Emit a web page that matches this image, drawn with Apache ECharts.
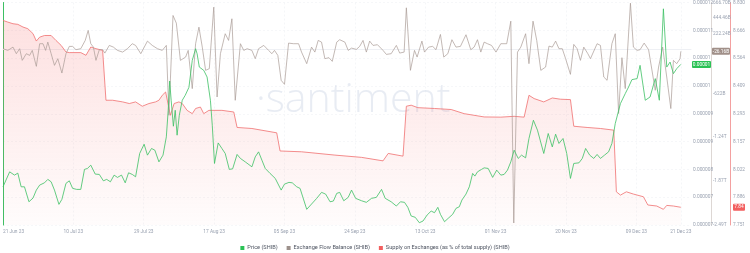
<!DOCTYPE html>
<html><head><meta charset="utf-8">
<script src="https://cdn.jsdelivr.net/npm/echarts@6/dist/echarts.min.js"></script>
<style>html,body{margin:0;padding:0;background:#fff}#c{width:750px;height:253px}</style>
</head><body><div id="c"></div>
<script>
// Day offsets are counted from 21 Jun 2023.
const startDate = Date.UTC(2023, 5, 21);
const dateTickDays = [0, 19, 38, 57, 76, 95, 114, 133, 152, 171, 183];

// Price (SHIB), in millionths of a USD
const priceDays = [0,1.8,3.1,4.0,4.9,5.8,7.0,8.1,9.0,9.9,
11.2,12.1,13.0,13.9,15.1,15.9,17.0,17.9,18.8,19.9,
21.0,22.0,22.8,23.7,24.9,26.0,27.1,28.0,29.0,30.0,
30.9,32.0,33.0,33.9,34.9,35.8,36.9,38.1,39.0,40.1,
41.0,42.1,43.2,44.1,44.6,45.0,45.4,46.0,46.5,47.0,
47.6,48.4,49.2,50.2,51.1,52.0,52.4,53.0,54.2,55.1,
56.0,56.5,57.1,58.1,59.1,60.0,61.1,62.0,63.2,64.1,
65.4,67.2,68.1,69.0,69.9,70.8,72.1,73.5,75.1,76.0,
77.2,78.1,79.3,80.2,82.0,83.3,84.7,86.0,87.1,88.3,
89.2,90.1,90.9,92.0,93.2,94.1,95.2,96.8,98.1,99.5,
100.8,102.2,103.2,104.8,106.2,107.3,108.4,109.3,110.2,111.3,
112.4,113.4,114.5,115.6,116.5,117.4,118.1,119.2,120.2,121.4,
122.3,123.2,123.9,125.0,125.9,126.8,127.4,128.1,129.2,129.9,
131.0,132.2,133.3,134.4,135.3,136.2,137.1,138.0,139.1,140.0,
141.1,142.0,143.2,144.3,146.0,147.2,148.3,149.2,150.1,151.2,
152.2,153.2,154.1,155.5,156.4,157.3,158.4,159.5,160.4,161.3,
162.4,163.5,164.4,165.3,166.7,168.0,168.9,169.8,171.2,172.0,
173.4,174.7,176.1,177.2,178.3,179.2,180.1,181.0,181.9,183];
const priceValues = [7.624,7.947,7.876,7.919,7.624,7.624,7.301,7.381,7.553,7.661,
7.710,7.784,7.732,7.553,7.245,7.353,7.698,7.753,7.590,7.568,
7.568,7.999,8.020,8.091,7.898,7.891,7.753,7.784,7.732,7.876,
7.827,7.876,7.710,7.926,7.891,7.840,8.343,8.543,8.307,8.451,
8.414,8.162,8.307,8.701,9.275,9.906,9.491,8.931,9.275,8.737,
9.168,9.491,9.598,9.770,10.352,10.603,10.496,10.207,10.136,9.992,
9.491,8.952,8.128,8.571,8.451,8.343,7.999,8.012,8.322,8.236,
8.162,8.055,8.270,8.378,8.199,8.020,7.913,7.805,7.553,7.682,
7.719,7.710,7.624,7.590,7.138,7.252,7.375,7.504,7.467,7.301,
7.317,7.482,7.504,7.323,7.396,7.553,7.375,7.323,7.289,7.375,
7.396,7.568,7.375,7.301,7.209,7.301,7.289,7.181,6.994,6.966,
6.849,6.886,7.015,7.101,7.065,7.181,7.030,6.871,6.944,7.030,
7.159,7.194,7.338,7.467,7.624,7.913,7.855,7.947,7.999,8.033,
8.020,7.827,7.984,7.876,7.891,7.984,8.162,8.414,8.236,8.307,
8.249,8.666,9.060,8.845,8.343,8.774,8.485,8.759,8.559,8.666,
8.343,7.805,8.128,8.141,8.236,8.451,8.307,8.236,8.322,8.236,
8.307,8.378,8.559,8.989,9.420,9.635,9.777,9.936,9.958,10.244,
9.491,9.562,9.958,9.491,11.464,10.207,10.315,10.065,10.173,10.265];

// Exchange Flow Balance (SHIB), in billions
const flowDays = [0,1.3,2.7,3.6,4.5,5.2,6.3,7.2,7.9,9.0,
9.9,10.8,11.5,12.1,13.0,13.9,14.8,15.9,17.0,17.9,
18.8,19.7,21.0,22.2,23.0,23.7,24.4,25.1,26.0,26.9,
27.5,28.7,29.8,30.9,32.3,33.6,34.9,35.8,37.2,39.0,
40.3,41.7,43.0,44.1,44.8,45.9,46.8,47.9,49.3,50.0,
51.1,52.0,52.9,53.8,54.7,55.7,56.9,57.8,58.7,60.0,
60.9,61.8,62.7,64.1,65.0,65.9,67.2,68.1,69.0,70.4,
71.7,72.6,73.3,74.2,75.1,76.0,77.1,78.4,79.8,80.6,
82.0,83.3,84.2,85.1,86.0,86.9,88.0,88.9,90.1,90.9,
92.3,93.2,94.1,95.4,96.3,97.2,98.1,99.0,99.9,101.1,
102.6,103.5,104.8,106.2,107.1,108.3,108.9,110.0,111.1,111.8,
113.1,113.8,114.9,116.0,116.9,118.1,119.0,120.1,121.2,122.3,
123.5,125.0,126.3,127.2,128.1,129.0,129.9,130.8,131.9,133.1,
134.4,136.0,137.1,137.9,138.9,139.8,141.1,142.0,143.1,144.1,
145.2,146.5,147.4,148.3,149.2,150.1,151.0,151.9,153.2,154.1,
155.0,155.9,156.8,157.9,158.6,160.4,161.3,162.2,163.1,164.4,
165.3,166.2,167.1,168.0,169.4,170.2,171.2,172.0,173.1,174.3,
176.1,177.0,178.1,179.2,180.3,181.0,181.9,182.8,183];
const flowValues = [11.3,-12.7,34.0,-59.5,11.3,-154.3,-59.5,-83.5,-12.7,-239.2,
82.1,82.1,-12.7,104.7,-59.5,-225.1,-130.2,-334.1,-59.5,43.9,
43.9,-2.8,11.3,128.8,270.4,82.1,34.0,-154.3,-2.8,-2.8,
-51.0,58.0,34.0,-12.7,-36.8,11.3,82.1,58.0,-59.5,118.9,
58.0,11.3,-12.7,58.0,-932.8,482.7,373.7,-154.3,-107.6,-12.7,
-554.9,82.1,317.1,34.0,-295.8,-271.8,600.2,-673.8,-59.5,223.6,
128.8,436.0,-720.5,82.1,-12.7,11.3,-12.7,-130.2,11.3,58.0,
-12.7,-59.5,-12.7,-83.5,-437.4,-494.0,90.6,82.1,82.1,-36.8,
-201.0,34.0,-36.8,128.8,104.7,-130.2,-116.1,-168.4,104.7,138.7,
104.7,-12.7,19.8,1.4,43.9,128.8,-36.8,118.9,58.0,67.9,
-12.7,-69.4,-59.5,58.0,-51.0,-36.8,591.7,-295.8,-12.7,-107.6,
118.9,-36.8,34.0,43.9,-2.8,213.7,-107.6,-59.5,138.7,34.0,
43.9,209.5,-2.8,34.0,138.7,-36.8,104.7,82.1,58.0,-36.8,
82.1,82.1,402.0,-2461.6,-36.8,34.0,223.6,-201.0,402.0,128.8,
-295.8,-249.1,48.1,34.0,118.9,11.3,11.3,-130.2,-352.5,72.2,
11.3,-154.3,34.0,-59.5,-130.2,82.1,58.0,-390.7,-437.4,82.1,
223.6,-908.8,-116.1,-554.9,656.8,34.0,-12.7,-2.8,90.6,-2.8,
-578.9,-249.1,34.0,-390.7,-838.0,-154.3,-201.0,-130.2,-26.16];

// Supply on Exchanges (% of total supply)
const supplyDays = [0,1.3,2.7,4.0,5.4,6.7,8.1,9.0,9.9,11.2,
13.0,14.3,15.7,17.0,17.9,21.0,22.4,23.7,25.1,26.9,
27.8,29.6,32.3,34.1,35.8,37.6,39.4,41.2,42.1,43.0,
43.9,45.2,46.2,47.5,48.4,49.7,51.1,52.0,53.3,54.2,
55.6,59.1,62.3,63.2,67.2,73.9,74.8,80.6,89.6,96.8,
102.6,104.0,108.0,108.9,110.2,112.0,116.5,121.0,124.5,129.9,
134.4,138.0,140.7,142.0,143.4,146.0,148.3,150.5,153.2,154.1,
157.7,161.3,164.9,165.6,166.7,168.3,170.2,172.9,174.1,176.5,
178.3,179.2,181.0,183];
const supplyValues = [8.743,8.735,8.727,8.724,8.711,8.703,8.679,8.643,8.662,8.670,
8.670,8.646,8.622,8.590,8.587,8.587,8.574,8.614,8.606,8.598,
8.356,8.356,8.348,8.340,8.348,8.327,8.340,8.348,8.356,8.380,
8.396,8.283,8.340,8.348,8.340,8.307,8.291,8.316,8.323,8.291,
8.307,8.307,8.299,8.224,8.219,8.198,8.110,8.106,8.090,8.079,
8.062,8.098,8.085,8.327,8.332,8.320,8.316,8.311,8.291,8.275,
8.274,8.278,8.274,8.380,8.364,8.348,8.367,8.361,8.359,8.230,
8.224,8.219,8.211,7.912,7.896,7.912,7.901,7.888,7.848,7.843,
7.827,7.846,7.843,7.837];

// Axis tick labels
const flowTicks = [666.7, 444.46, 222.23, -622.45, -1244.9, -1867.35, -2489.8];
const flowTickLabels = ['666.70B', '444.46B', '222.24B', '-622B', '-1.24T', '-1.87T', '-2.49T'];
const supplyTicks = [7.751, 7.886, 8.020, 8.155, 8.290, 8.425, 8.560, 8.695, 8.830];
const supplyTickLabels = ['7.751', '7.886', '8.022', '8.157', '8.293', '8.409', '8.564', '8.666', '8.830'];

const MONTHS = ['Jan','Feb','Mar','Apr','May','Jun','Jul','Aug','Sep','Oct','Nov','Dec'];
function fmtDay(d) {
  const t = new Date(startDate + Math.round(d) * 864e5);
  const dd = String(t.getUTCDate()).padStart(2, '0');
  return dd + ' ' + MONTHS[t.getUTCMonth()] + ' ' + String(t.getUTCFullYear()).slice(2);
}
function zip(a, b) { return a.map((x, i) => [x, b[i]]); }

const FONT = 'Roboto, "DejaVu Sans", sans-serif';
const LABEL_COLOR = '#9aa2b1';
const AX_FS = 4.8;
const GREEN = '#3cc063', GREY = '#a99b95', RED = '#f07070';

const chart = echarts.init(document.getElementById('c'), null, { renderer: 'canvas' });
chart.setOption({
  animation: false,
  textStyle: { fontFamily: FONT },
  grid: { left: 0, right: 59, top: 2, bottom: 28, containLabel: false },
  legend: {
    top: 240, left: 'center', itemWidth: 4, itemHeight: 4, itemGap: 9, icon: 'rect',
    textStyle: { fontSize: 5.6, color: '#4d5360', fontFamily: FONT, padding: [0, 0, 0, -2] },
    data: ['Price (SHIB)', 'Exchange Flow Balance (SHIB)', 'Supply on Exchanges (as % of total supply) (SHIB)']
  },
  xAxis: {
    type: 'value', min: 0, max: 185.75,
    axisLine: { show: true, lineStyle: { color: '#eef0f4', width: 1 } },
    axisTick: { show: false, customValues: dateTickDays },
    splitLine: { show: true, lineStyle: { color: '#eef0f4', type: [2, 2], width: 0.6 } },
    axisLabel: { customValues: dateTickDays, formatter: fmtDay, fontSize: AX_FS, color: LABEL_COLOR, margin: 4, alignMinLabel: 'left' }
  },
  yAxis: [
    {
      type: 'value', position: 'right', offset: 0, min: 6.8, max: 11.6, interval: 0.6,
      axisLine: { show: true, lineStyle: { color: GREEN, width: 1 } },
      axisTick: { show: false },
      splitLine: { show: true, lineStyle: { color: '#f0f2f5', type: [2, 2], width: 0.6 } },
      axisLabel: {
        fontSize: AX_FS, color: LABEL_COLOR, margin: 2, showMinLabel: true, showMaxLabel: true, hideOverlap: false,
        formatter: v => (v / 1e6).toFixed(6).replace(/0+$/, '')
      }
    },
    {
      type: 'value', position: 'right', offset: 20, min: -2489.8, max: 666.7,
      axisLine: { show: true, lineStyle: { color: '#ddd7d4', width: 1 } },
      axisTick: { show: false },
      splitLine: { show: false },
      axisLabel: {
        customValues: flowTicks, fontSize: AX_FS, color: LABEL_COLOR, margin: 2,
        formatter: v => { const i = flowTicks.findIndex(t => Math.abs(t - v) < 0.5); return i >= 0 ? flowTickLabels[i] : ''; }
      }
    },
    {
      type: 'value', position: 'right', offset: 39, min: 7.751, max: 8.830,
      axisLine: { show: true, lineStyle: { color: '#f3a0a0', width: 1 } },
      axisTick: { show: false },
      splitLine: { show: false },
      axisLabel: {
        customValues: supplyTicks, fontSize: AX_FS, color: LABEL_COLOR, margin: 3,
        formatter: v => { const i = supplyTicks.findIndex(t => Math.abs(t - v) < 0.003); return i >= 0 ? supplyTickLabels[i] : ''; }
      }
    }
  ],
  series: [
    {
      name: 'Supply on Exchanges (as % of total supply) (SHIB)', type: 'line', yAxisIndex: 2,
      data: zip(supplyDays, supplyValues), showSymbol: false, z: 1,
      itemStyle: { color: '#f25f5f' },
      lineStyle: { color: RED, width: 0.8 },
      areaStyle: {
        origin: 'start',
        color: new echarts.graphic.LinearGradient(0, 0, 0, 1, [
          { offset: 0, color: 'rgba(246,110,110,0.30)' },
          { offset: 1, color: 'rgba(246,110,110,0.03)' }
        ])
      }
    },
    {
      name: 'Exchange Flow Balance (SHIB)', type: 'line', yAxisIndex: 1,
      data: zip(flowDays, flowValues), showSymbol: false, z: 2,
      itemStyle: { color: '#9d918c' }, lineStyle: { color: GREY, width: 0.7 }
    },
    {
      name: 'Price (SHIB)', type: 'line', yAxisIndex: 0,
      data: zip(priceDays, priceValues), showSymbol: false, z: 3,
      itemStyle: { color: '#2bc255' }, lineStyle: { color: GREEN, width: 0.8 }
    }
  ]
});

// watermark and value badges on the three axes, placed with the library's scales
const gridRight = chart.convertToPixel({ xAxisIndex: 0 }, 185.75);
function badge(id, axisIdx, value, text, bg, x, w) {
  const y = chart.convertToPixel({ yAxisIndex: axisIdx }, value);
  return {
    id: id, type: 'group', z: 10, children: [
      { type: 'rect', shape: { x: x, y: y - 3.5, width: w, height: 7, r: 1 }, style: { fill: bg } },
      { type: 'text', style: { text: text, x: x + w / 2, y: y, align: 'center', verticalAlign: 'middle', font: '4.8px Roboto, sans-serif', fill: '#ffffff' } }
    ]
  };
}
chart.setOption({
  graphic: [
    {
      id: 'wm', type: 'text', left: 256, top: 80, z: 0, silent: true,
      style: { text: '·santiment', font: '300 41px "Open Sans", sans-serif', fill: 'rgba(214,221,234,0.55)' }
    },
    badge('b1', 0, priceValues[priceValues.length - 1], '0.00001', '#2bc255', gridRight + 1, 19),
    badge('b2', 1, flowValues[flowValues.length - 1], '-26.16B', '#a08f88', gridRight + 21, 18),
    badge('b3', 2, supplyValues[supplyValues.length - 1], '7.84', '#f25f5f', gridRight + 42, 12)
  ]
});
</script></body></html>
